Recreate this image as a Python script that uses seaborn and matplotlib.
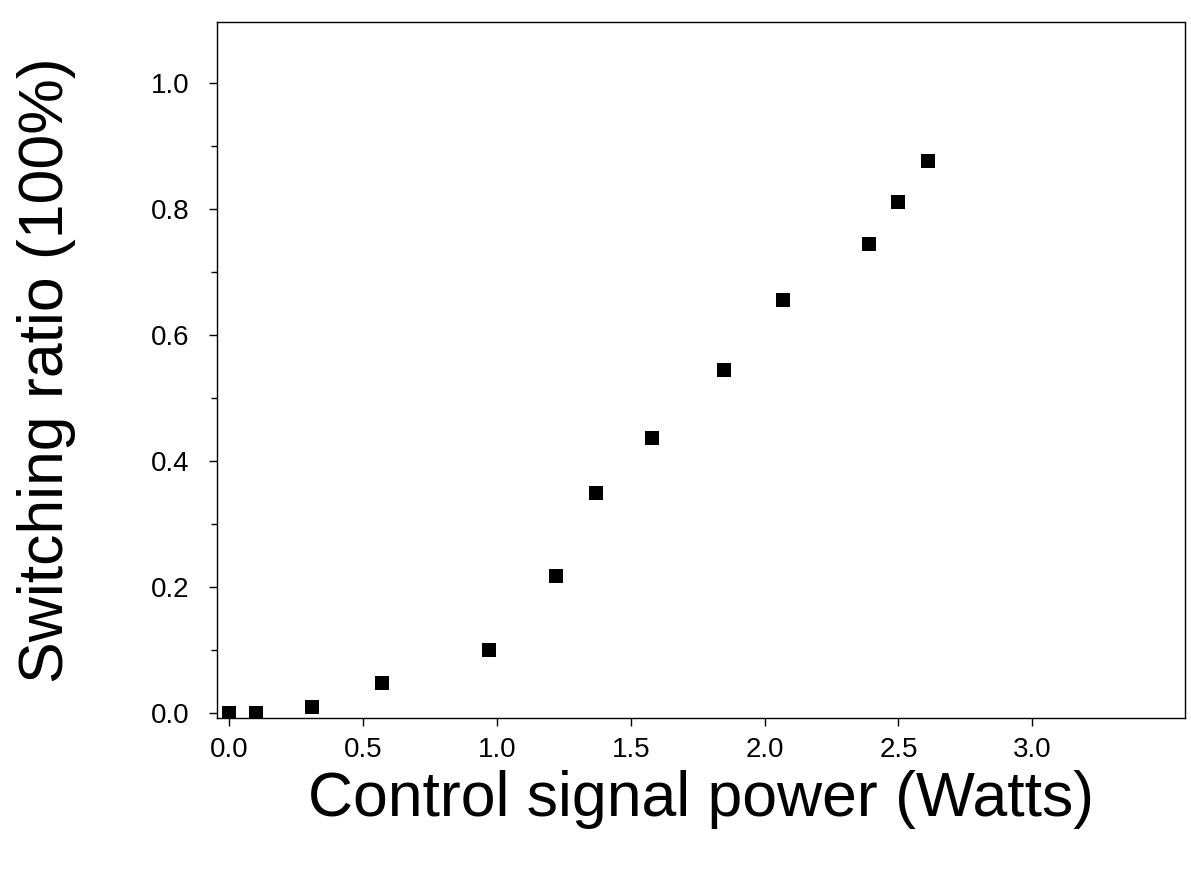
import matplotlib.pyplot as plt
import seaborn as sns
import pandas as pd
from matplotlib.ticker import MultipleLocator

# values
power_w = [0.0, 0.10, 0.31, 0.57, 0.97, 1.22, 1.37, 1.58, 1.85, 2.07, 2.39, 2.50, 2.61]
switching_ratio = [0.0, 0.0, 0.010, 0.048, 0.100, 0.217, 0.350, 0.437, 0.544, 0.656, 0.744, 0.811, 0.877]

x_ticks = [0.0, 0.5, 1.0, 1.5, 2.0, 2.5, 3.0]
y_ticks = [0.0, 0.2, 0.4, 0.6, 0.8, 1.0]

df = pd.DataFrame({"power": power_w, "ratio": switching_ratio})

sns.set_style("ticks")
plt.rcParams["font.family"] = ["Liberation Sans", "DejaVu Sans"]

fig = plt.figure(figsize=(11.91, 8.72), dpi=100)
ax = fig.add_axes([217 / 1191, 1 - 718 / 872, (1185 - 217) / 1191, (718 - 22) / 872])

sns.scatterplot(data=df, x="power", y="ratio", marker="s", s=90, color="black",
                edgecolor="black", linewidth=0, ax=ax)

ax.set_xlim(-0.045, 3.57)
ax.set_ylim(-0.008, 1.097)
ax.set_xticks(x_ticks)
ax.set_xticklabels([f"{t:.1f}" for t in x_ticks])
ax.set_yticks(y_ticks)
ax.set_yticklabels([f"{t:.1f}" for t in y_ticks])
ax.yaxis.set_minor_locator(MultipleLocator(0.1))

ax.tick_params(axis="both", which="major", direction="out", length=6, width=1,
               labelsize=20, colors="black")
ax.tick_params(axis="x", pad=8)
ax.tick_params(axis="y", pad=14)
ax.tick_params(axis="y", which="minor", direction="out", length=4, width=1, colors="black")

for side in ["top", "bottom", "left", "right"]:
    ax.spines[side].set_visible(True)
    ax.spines[side].set_linewidth(1.0)
    ax.spines[side].set_color("black")

ax.set_xlabel("Control signal power (Watts)", fontsize=45, labelpad=5, color="black")
ax.set_ylabel("Switching ratio (100%)", fontsize=45, labelpad=54, color="black")

fig.savefig("out.png", dpi=100, facecolor="white")
